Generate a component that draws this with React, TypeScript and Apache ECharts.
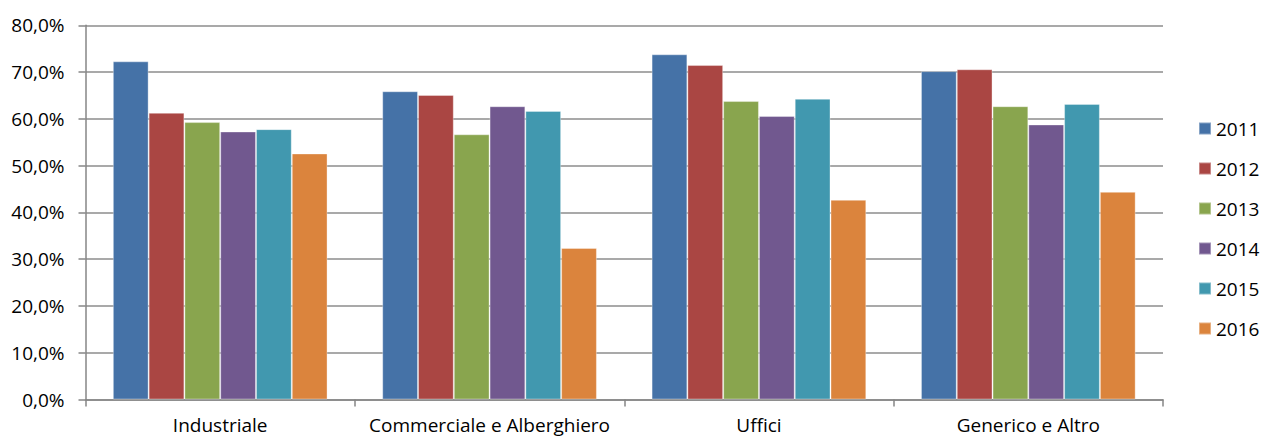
import React, { useEffect, useRef } from "react";
import * as echarts from "echarts";

const categories = ["Industriale", "Commerciale e Alberghiero", "Uffici", "Generico e Altro"];
const years = ["2011", "2012", "2013", "2014", "2015", "2016"];
const v2011 = [72.3, 65.9, 73.8, 70.2];
const v2012 = [61.3, 65.1, 71.5, 70.6];
const v2013 = [59.3, 56.7, 63.8, 62.7];
const v2014 = [57.3, 62.7, 60.6, 58.8];
const v2015 = [57.8, 61.7, 64.3, 63.2];
const v2016 = [52.6, 32.4, 42.7, 44.4];
const seriesValues = [v2011, v2012, v2013, v2014, v2015, v2016];
const colors = ["#4572A7", "#AA4643", "#89A54E", "#71588F", "#4198AF", "#DB843D"];

const FONT = "Open Sans";

export default function App() {
  const ref = useRef<HTMLDivElement>(null);
  useEffect(() => {
    if (!ref.current) return;
    const chart = echarts.init(ref.current, null, { renderer: "svg" });
    chart.setOption({
      animation: false,
      backgroundColor: "#ffffff",
      color: colors,
      grid: { left: 85.5, right: 98, top: 25.3, bottom: 37.5, containLabel: false },
      legend: {
        orient: "vertical",
        left: 1193,
        top: 114,
        itemWidth: 12,
        itemHeight: 12,
        itemGap: 21,
        icon: "rect",
        textStyle: { fontFamily: FONT, fontSize: 19, color: "#000" },
        data: years,
      },
      xAxis: {
        type: "category",
        data: categories,
        axisLine: { show: true, lineStyle: { color: "#868686", width: 1.5 } },
        axisTick: { show: true, length: 7, interval: 0, alignWithLabel: false, lineStyle: { color: "#868686", width: 1.5 } },
        axisLabel: { fontFamily: FONT, fontSize: 19, lineHeight: 20, color: "#000", margin: 15, interval: 0 },
        splitLine: { show: false },
      },
      yAxis: {
        type: "value",
        min: 0,
        max: 80,
        interval: 10,
        axisLine: { show: true, lineStyle: { color: "#868686", width: 1.5 } },
        axisTick: { show: true, length: 7, lineStyle: { color: "#868686", width: 1.5 } },
        axisLabel: {
          fontFamily: FONT,
          fontSize: 19,
          color: "#000",
          margin: 21,
          formatter: (v: number) => v.toFixed(1).replace(".", ",") + "%",
        },
        splitLine: { show: true, lineStyle: { color: "#8c8c8c", width: 1.5 } },
      },
      series: years.map((y, i) => ({
        name: y,
        type: "bar",
        data: seriesValues[i],
        barGap: "0%",
        barCategoryGap: "20.3%",
        itemStyle: { color: colors[i], borderColor: "rgba(255,255,255,0.35)", borderWidth: 1 },
      })),
    });
    return () => chart.dispose();
  }, []);
  return (
    <div
      ref={ref}
      style={{ position: "fixed", left: 0, top: 0, width: 1261, height: 437 }}
    />
  );
}
